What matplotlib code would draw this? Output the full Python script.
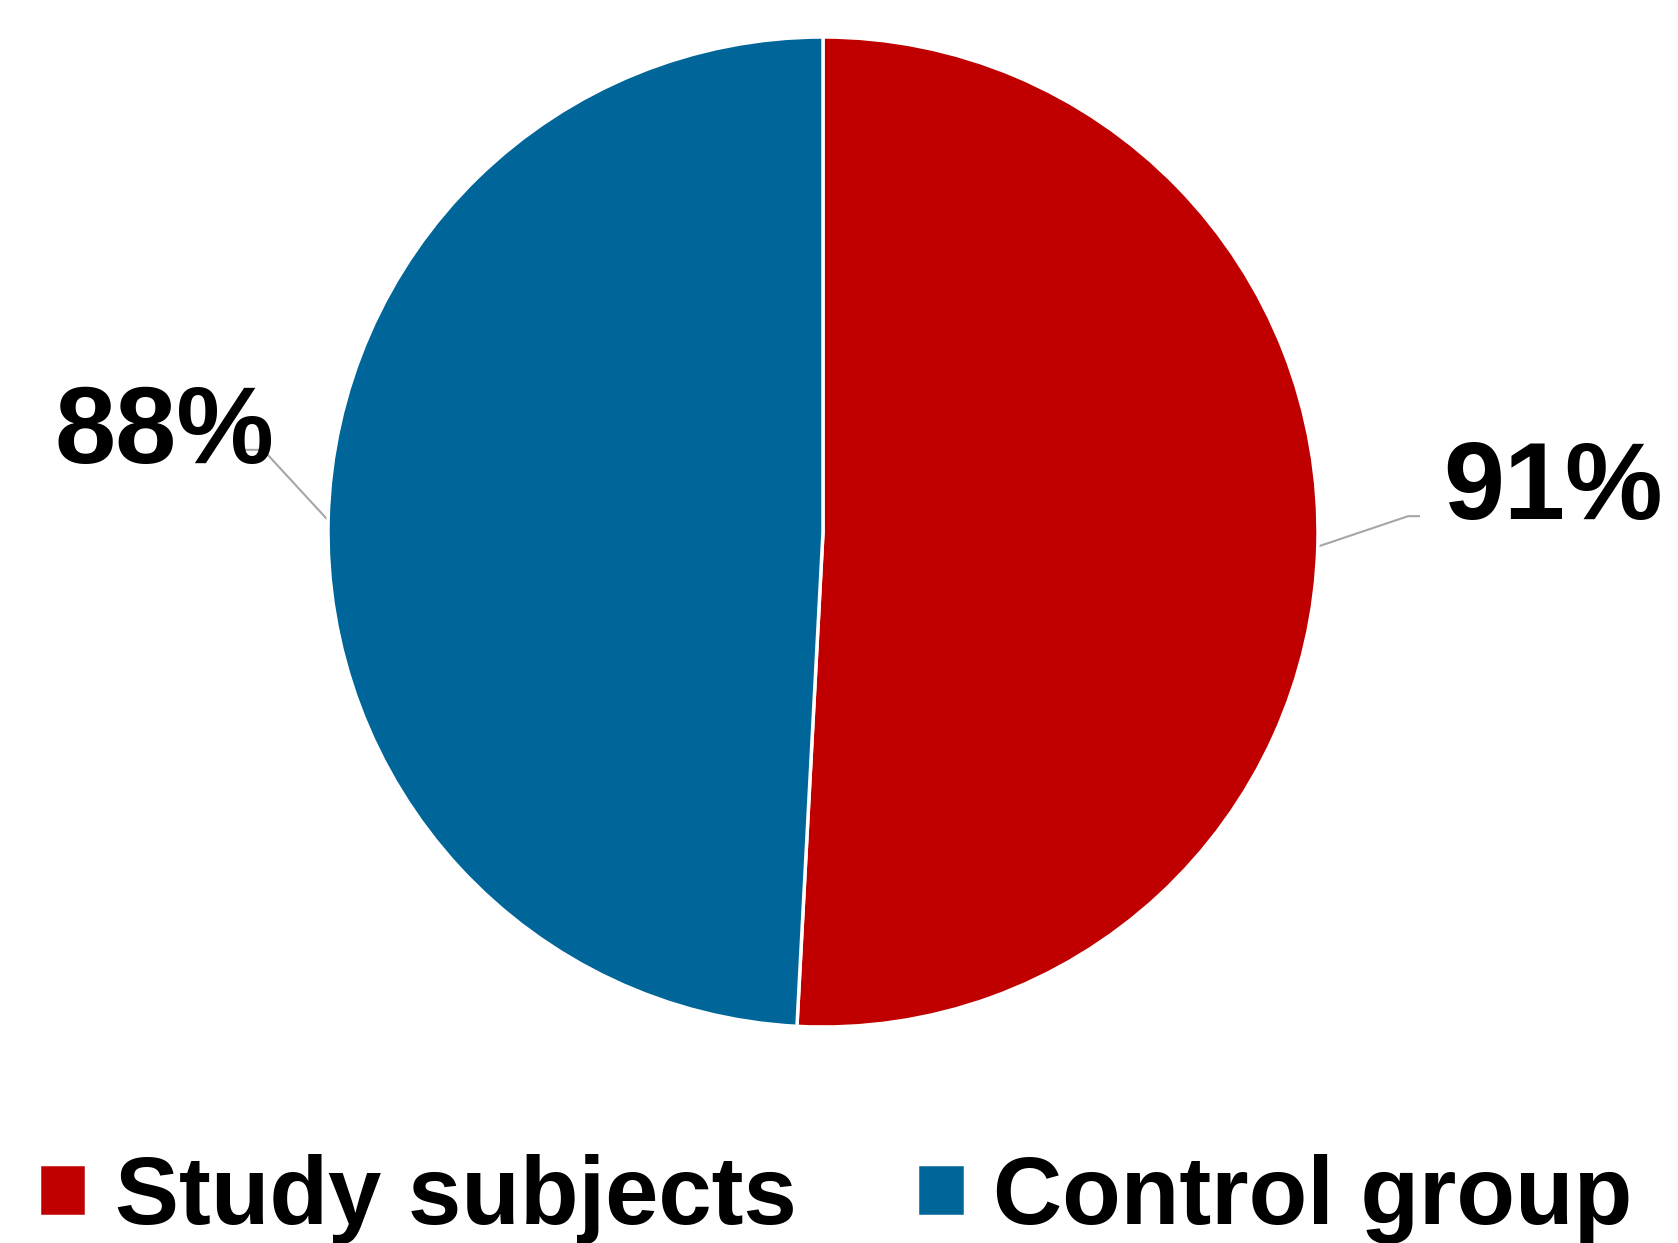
import matplotlib.pyplot as plt

plt.rcParams['font.family'] = ['Liberation Sans', 'DejaVu Sans']

# data
groups = ['Study subjects', 'Control group']
values = [91, 88]
labels = ['91%', '88%']
colors = ['#C00000', '#006699']

fig = plt.figure(figsize=(16.78, 12.43), dpi=100)
W, H = 1678, 1243
cx, cy, r = 823, 532, 495
ax = fig.add_axes([(cx - r) / W, 1 - (cy + r) / H, 2 * r / W, 2 * r / H])

wedges, _ = ax.pie(values, colors=colors, startangle=90, counterclock=False,
                   wedgeprops=dict(edgecolor='white', linewidth=2.5))
ax.set_xlim(-1, 1)
ax.set_ylim(-1, 1)
ax.set_aspect('equal')
ax.axis('off')

# outside labels with leader lines
ax.text(1.475, 0.082, labels[0], ha='center', va='center', fontsize=79,
        fontweight='bold', clip_on=False)
ax.text(-1.331, 0.196, labels[1], ha='center', va='center', fontsize=79,
        fontweight='bold', clip_on=False)
ax.plot([1.004, 1.182, 1.204], [-0.028, 0.032, 0.032], color='#A6A6A6',
        lw=1.5, clip_on=False, zorder=0)
ax.plot([-1.002, -1.131, -1.168], [0.026, 0.166, 0.166], color='#A6A6A6',
        lw=1.5, clip_on=False, zorder=0)

fig.legend(wedges, groups, loc='center', bbox_to_anchor=(0.498, 44 / H),
           ncol=2, frameon=False, prop=dict(size=69, weight='bold'),
           handlelength=0.5, handleheight=0.45, handletextpad=0.3,
           columnspacing=1.25, borderpad=0, borderaxespad=0)

fig.savefig('out.png', dpi=100)
